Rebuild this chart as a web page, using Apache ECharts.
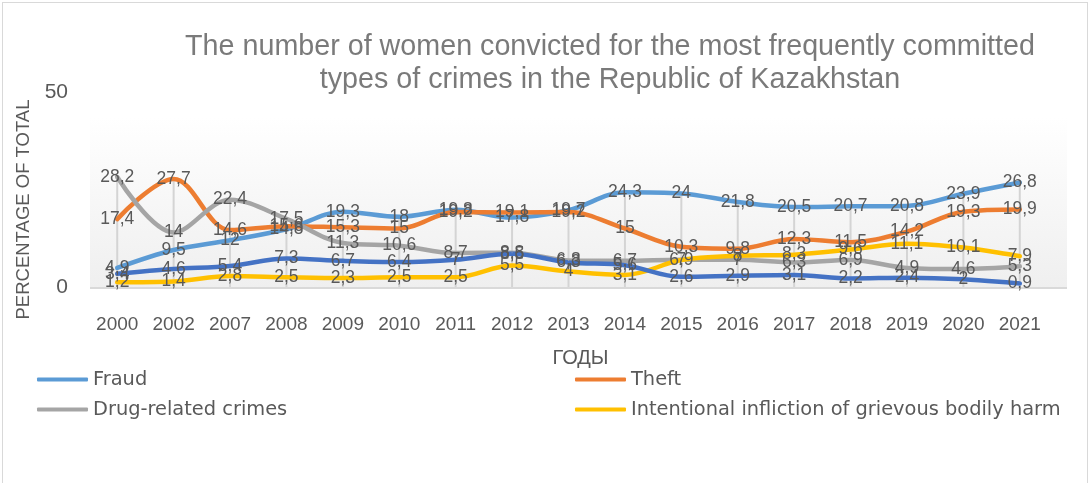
<!DOCTYPE html>
<html>
<head>
<meta charset="utf-8">
<script src="https://cdn.jsdelivr.net/npm/echarts@6/dist/echarts.min.js"></script>
<style>
  html, body { margin: 0; padding: 0; background: #fff; }
  #wrap { position: relative; width: 1088px; height: 483px; }
  #demo { width: 1088px; height: 483px; }
  #frame { position: absolute; left: 2px; top: 2px; width: 1084px; height: 500px;
           border: 1px solid #d9d9d9; pointer-events: none; }
</style>
</head>
<body>
<div id="wrap">
  <div id="demo"></div>
  <div id="frame"></div>
</div>
<script>
var years = ['2000','2002','2007','2008','2009','2010','2011','2012','2013','2014','2015','2016','2017','2018','2019','2020','2021'];
var fraud = [4.9, 9.5, 12, 14.8, 19.3, 18, 19.8, 17.8, 19.7, 24.3, 24, 21.8, 20.5, 20.7, 20.8, 23.9, 26.8];
var theft = [17.4, 27.7, 14.6, 15.6, 15.3, 15, 19.2, 19.1, 19.2, 15, 10.3, 9.8, 12.3, 11.5, 14.2, 19.3, 19.9];
var drugs = [28.2, 14, 22.4, 17.5, 11.3, 10.6, 8.7, 8.8, 6.8, 6.7, 7, 7, 6.3, 6.9, 4.9, 4.6, 5.3];
var harm = [1.2, 1.4, 2.8, 2.5, 2.3, 2.5, 2.5, 5.5, 4, 3.1, 6.9, 8, 8.3, 9.6, 11.1, 10.1, 7.9];
var other = [3.4, 4.6, 5.4, 7.3, 6.7, 6.4, 7, 8.5, 6.3, 5.6, 2.6, 2.9, 3.1, 2.2, 2.4, 2, 0.9];
var yTicks = [0, 50];

// drop lines go from the highest point of each year down to the axis
var tops = years.map(function (y, i) {
    return Math.max(fraud[i], theft[i], drugs[i], harm[i], other[i]);
});

function lineSeries(name, data, color) {
    return {
        name: name,
        type: 'line',
        data: data,
        z: 5,
        smooth: 0.35,
        showSymbol: true,
        symbol: 'circle',
        symbolSize: 1,
        lineStyle: { width: 4.5, color: color, cap: 'round' },
        itemStyle: { color: color },
        label: {
            show: true,
            position: 'inside',
            color: '#595959',
            fontFamily: 'Liberation Sans',
            fontSize: 17.5,
            formatter: function (p) { return String(p.value).replace('.', ','); }
        },
        emphasis: { disabled: true }
    };
}

var option = {
    animation: false,
    title: {
        text: 'The number of women convicted for the most frequently committed\ntypes of crimes in the Republic of Kazakhstan',
        left: 610,
        textAlign: 'center',
        top: 31,
        padding: 0,
        textStyle: {
            color: '#7a7a7a',
            fontFamily: 'Liberation Sans',
            fontWeight: 'normal',
            fontSize: 28.7,
            lineHeight: 33
        }
    },
    legend: {
        data: ['Fraud', 'Theft', 'Drug-related crimes', 'Intentional infliction of grievous bodily harm'],
        left: 37,
        top: 370,
        width: 1080,
        padding: 0,
        icon: 'roundRect',
        itemWidth: 51,
        itemHeight: 4,
        itemGap: 11,
        selectedMode: false,
        textStyle: {
            color: '#595959',
            fontFamily: 'DejaVu Sans',
            fontSize: 19.4,
            width: 471,
            lineHeight: 17
        }
    },
    graphic: [
        {
            type: 'rect',
            z: -5,
            silent: true,
            shape: { x: 90, y: 117, width: 977, height: 171 },
            style: {
                fill: new echarts.graphic.LinearGradient(0, 0, 0, 1, [
                    { offset: 0, color: '#ffffff' },
                    { offset: 1, color: '#efefef' }
                ])
            }
        },
        {
            type: 'line',
            z: -4,
            silent: true,
            shape: { x1: 90, y1: 288, x2: 1067, y2: 288 },
            style: { stroke: '#d9d9d9', lineWidth: 2 }
        }
    ],
    grid: { left: 89, right: 40, top: 92, bottom: 196 },
    xAxis: {
        type: 'category',
        data: years,
        boundaryGap: true,
        axisLine: { show: false },
        axisTick: { show: false },
        axisLabel: {
            color: '#595959',
            fontFamily: 'Liberation Sans',
            fontSize: 19,
            margin: 28,
            interval: 0
        },
        name: 'ГОДЫ',
        nameLocation: 'middle',
        nameGap: 61,
        nameTextStyle: {
            color: '#595959',
            fontFamily: 'Liberation Sans',
            fontSize: 20,
            padding: [0, 0, 0, 24]
        }
    },
    yAxis: {
        type: 'value',
        min: yTicks[0],
        max: yTicks[1],
        interval: yTicks[1] - yTicks[0],
        axisLine: { show: false },
        axisTick: { show: false },
        splitLine: { show: false },
        axisLabel: {
            color: '#595959',
            fontFamily: 'Liberation Sans',
            fontSize: 21,
            margin: 21
        },
        name: 'PERCENTAGE OF TOTAL',
        nameLocation: 'middle',
        nameGap: 55,
        nameTextStyle: {
            color: '#595959',
            fontFamily: 'Liberation Sans',
            fontSize: 18.5,
            padding: [0, 40, 0, 0]
        }
    },
    series: [
        {
            name: 'drop',
            type: 'bar',
            data: tops,
            barWidth: 2,
            silent: true,
            z: 3,
            itemStyle: { color: '#d4d4d4' }
        },
        lineSeries('Fraud', fraud, '#5b9bd5'),
        lineSeries('Theft', theft, '#ed7d31'),
        lineSeries('Drug-related crimes', drugs, '#a5a5a5'),
        lineSeries('Intentional infliction of grievous bodily harm', harm, '#ffc000'),
        lineSeries('Other', other, '#4472c4')
    ]
};

var myChart = echarts.init(document.getElementById('demo'));
myChart.setOption(option);
</script>
</body>
</html>
